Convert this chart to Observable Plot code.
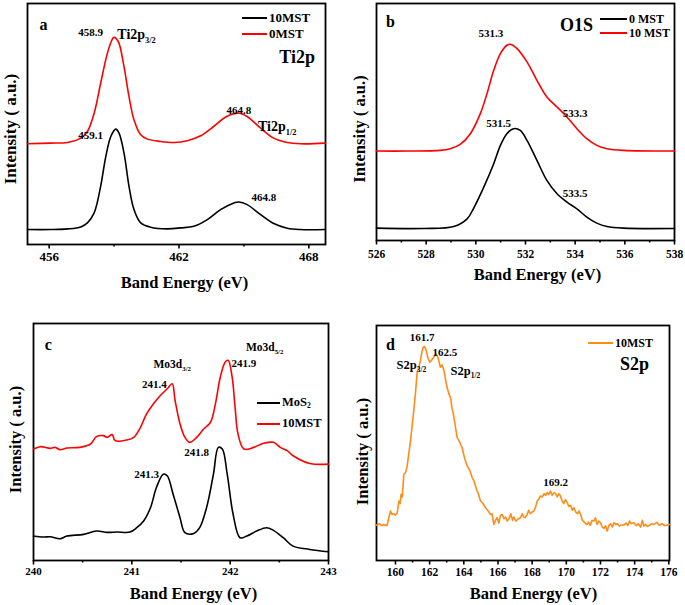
<!DOCTYPE html>
<html><head><meta charset="utf-8">
<script src="https://cdn.jsdelivr.net/npm/d3@7"></script>
<script src="https://cdn.jsdelivr.net/npm/@observablehq/plot@0.6"></script>
<style>
body{margin:0;background:#fff;}
#wrap{position:relative;width:685px;height:605px;overflow:hidden;background:#fff;}
.pan{position:absolute;}
.pan svg text{font-family:'Liberation Serif','Times New Roman',serif !important;font-weight:bold;}
.leg{position:absolute;font-family:'Liberation Serif',serif;font-weight:bold;color:#000;}
.row{display:flex;align-items:center;white-space:nowrap;}
.ln{display:inline-block;border-top:2px solid;margin-right:2px;}
sub{font-size:60%;vertical-align:-0.25em;}
</style></head><body><div id="wrap"></div><script>
// ---------- Panel a: Ti2p ----------
const tiEnergy0 = [455.0,456.08,456.85,457.46,457.77,458.08,458.38,458.69,458.92,459.0,459.08,459.23,459.46,459.69,459.92,460.23,460.54,461.15,461.77,462.38,463.0,463.6,464.2,464.77,465.15,465.77,466.38,467.0,467.6,468.77];
const tiInt0    = [303,305,307,320,340,395,485,575,618,623,621,605,535,445,375,330,317,310,307,312,327,355,385,395,385,350,320,307,303,305];
const tiEnergy10 = [455.0,456.08,456.85,457.46,457.77,458.08,458.38,458.62,458.85,459.08,459.23,459.46,459.69,459.92,460.23,460.69,461.46,462.08,462.69,463.31,463.92,464.54,464.77,465.15,465.77,466.38,467.0,467.6,468.77];
const tiInt10    = [45,45,47,53,65,95,175,265,325,347,335,275,175,105,65,52,47,50,55,75,105,125,128,120,90,63,49,45,45];
const tiMajor = [456,462,468], tiMinor = [459,465];
// ---------- Panel b: O1S ----------
const oEnergy10 = [526,527.23,528.57,528.97,529.37,529.78,530.18,530.45,530.72,530.99,531.25,531.39,531.66,532.06,532.46,532.86,533.27,533.67,534.07,534.47,534.87,535.28,535.95,538];
const oInt10    = [268,268,270,275,288,320,380,440,510,560,585,588,575,535,480,430,400,370,335,305,285,275,270,268];
const oEnergy0 = [526,527.9,529.11,529.65,529.9,530.32,530.72,530.99,531.25,531.52,531.79,532.06,532.46,532.86,533.27,533.67,534.07,534.47,534.87,535.28,535.95,538];
const oInt0    = [37,36,42,65,95,160,230,285,320,335,330,300,240,180,140,115,95,70,52,42,37,36];
const oMajor = [526,528,530,532,534,536,538], oMinor = [527,529,531,533,535,537];
// ---------- Panel c: Mo3d ----------
const moEnergy10 = [240.0,240.07,240.17,240.22,240.27,240.34,240.47,240.58,240.64,240.71,240.75,240.80,240.83,240.95,241.02,241.08,241.15,241.22,241.29,241.36,241.41,241.44,241.49,241.54,241.59,241.66,241.73,241.80,241.85,241.90,241.95,241.98,242.02,242.05,242.08,242.14,242.24,242.34,242.44,242.51,242.58,242.64,242.81,243.0];
const moInt10    = [333,340,335,338,331,336,338,348,370,373,368,376,358,360,368,393,438,468,493,513,528,478,408,368,353,368,393,413,468,548,593,598,548,458,378,333,338,350,353,338,328,313,290,288];
const moEnergyMoS2 = [240.0,240.1,240.17,240.27,240.34,240.51,240.64,240.75,240.85,240.98,241.05,241.12,241.19,241.25,241.32,241.36,241.42,241.49,241.54,241.63,241.69,241.76,241.83,241.88,241.92,241.97,242.03,242.10,242.17,242.27,242.37,242.44,242.54,242.64,242.81,243.0];
const moIntMoS2    = [73,70,71,65,73,78,88,84,85,85,98,118,158,218,258,253,198,128,83,81,98,158,258,338,333,258,138,68,73,88,98,90,68,43,33,26];
const moMajor = [240,241,242,243], moMinor = [240.5,241.5,242.5];
// ---------- Panel d: S2p ----------
const sEnergy = [158.89,159.05,159.2,159.32,159.45,159.51,159.62,159.71,159.8,159.9,160.0,160.1,160.2,160.27,160.33,160.4,160.49,160.58,160.68,160.78,160.88,160.97,161.07,161.17,161.27,161.36,161.46,161.55,161.62,161.7,161.81,161.9,162.01,162.12,162.24,162.35,162.44,162.53,162.63,162.73,162.83,162.92,163.02,163.12,163.22,163.31,163.41,163.51,163.61,163.75,163.9,164.05,164.2,164.35,164.49,164.6,164.7,164.78,164.85,164.98,165.1,165.27,165.4,165.56,165.65,165.76,165.85,165.95,166.05,166.15,166.24,166.35,166.45,166.54,166.65,166.75,166.85,166.93,167.05,167.2,167.32,167.42,167.5,167.6,167.71,167.8,167.9,168.0,168.1,168.2,168.3,168.4,168.49,168.6,168.7,168.8,168.88,168.98,169.07,169.17,169.27,169.37,169.47,169.56,169.66,169.75,169.85,169.95,170.05,170.15,170.25,170.35,170.44,170.55,170.65,170.75,170.83,170.95,171.05,171.15,171.22,171.3,171.4,171.5,171.61,171.7,171.8,171.9,172.0,172.1,172.2,172.3,172.39,172.5,172.6,172.7,172.78,172.9,173.0,173.1,173.2,173.37,173.5,173.6,173.7,173.8,173.95,174.1,174.2,174.35,174.45,174.54,174.65,174.75,174.9,175.0,175.12,175.3,175.45,175.6,175.75,175.9,176.04];
const sInt    = [106,110,104,108,104,106,130,148,138,140,136,142,178,170,198,190,258,262,280,320,358,400,448,500,563,575,598,625,638,640,628,605,593,600,608,618,613,600,578,585,570,545,518,500,488,455,433,400,368,355,338,305,283,270,248,238,220,208,200,178,172,158,150,138,140,108,120,128,112,135,138,125,130,118,125,140,120,130,118,125,128,140,130,128,138,150,140,145,148,160,178,185,193,190,200,195,203,198,208,195,203,200,190,200,193,178,170,182,173,162,165,150,158,145,140,148,138,120,115,110,108,115,105,120,118,128,108,118,113,100,96,104,88,105,110,100,113,108,110,103,106,106,112,105,118,110,113,104,110,100,120,103,108,102,106,110,108,114,105,110,104,106,108];
const sMajor = [160,162,164,166,168,170,172,174,176], sMinor = [161,163,165,167,169,171,173,175];

const zip = (E, I) => E.map((e, k) => ({e, i: I[k]}));
const FONT = "Liberation Serif";

function applySubs(svg, subScale) {
  svg.querySelectorAll("text").forEach(t => {
    const s = t.textContent;
    const m = s.match(/^(.*)_\{(.*)\}$/);
    if (!m) return;
    const fs = parseFloat(t.getAttribute("font-size")) || 12;
    while (t.firstChild) t.removeChild(t.firstChild);
    const a = document.createElementNS("http://www.w3.org/2000/svg", "tspan");
    a.textContent = m[1];
    const b = document.createElementNS("http://www.w3.org/2000/svg", "tspan");
    b.textContent = m[2];
    b.setAttribute("font-size", fs * subScale);
    b.setAttribute("dy", fs * 0.3);
    t.appendChild(a); t.appendChild(b);
  });
}

function panel(o) {
  const tf = {fontFamily: FONT, fontWeight: "bold"};
  const marks = [
    Plot.frame({strokeWidth: 1.8}),
    Plot.axisX({ticks: o.major, tickSize: 4.5, tickPadding: o.tickPad, fontSize: o.tickFont, strokeWidth: 1.6, label: null, tickFormat: d => String(d), ...tf}),
    Plot.axisX({ticks: o.minor, tickSize: 2.5, strokeWidth: 1.6, label: null, tickFormat: () => ""}),
    ...o.series.map(s => Plot.line(s.data, {x: "e", y: "i", stroke: s.stroke, strokeWidth: 1.6, curve: o.curve})),
    Plot.text(o.notes.filter(n => n.anchor !== "start"), {x: "x", y: "y", text: "text", fontSize: "size", textAnchor: "middle", ...tf}),
    Plot.text(o.notes.filter(n => n.anchor === "start"), {x: "x", y: "y", text: "text", fontSize: "size", textAnchor: "start", ...tf}),
    Plot.text(["Band Energy (eV)"], {frameAnchor: "bottom", textAnchor: "middle", lineAnchor: "middle", dx: o.xl[0], dy: o.xl[1], fontSize: 16.5, ...tf}),
    Plot.text(["Intensity ( a.u.)"], {frameAnchor: "left", textAnchor: "middle", lineAnchor: "middle", rotate: -90, dx: o.yl[0], dy: o.yl[1], fontSize: o.yl[2], ...tf})
  ];
  const p = Plot.plot({
    width: o.width, height: o.height,
    marginLeft: o.m[0], marginRight: o.m[1], marginTop: o.m[2], marginBottom: o.m[3],
    x: {domain: o.xDomain},
    y: {domain: o.yDomain, axis: null},
    style: {fontFamily: "Liberation Serif, serif", fontWeight: "bold", background: "transparent", color: "#000"},
    marks
  });
  applySubs(p, 0.6);
  const div = document.createElement("div");
  div.className = "pan";
  div.style.left = o.left + "px"; div.style.top = o.top + "px";
  div.appendChild(p);
  document.getElementById("wrap").appendChild(div);
}

function legend(left, top, rowH, lineW, fontSize, rows) {
  const d = document.createElement("div");
  d.className = "leg";
  d.style.left = left + "px"; d.style.top = top + "px"; d.style.fontSize = fontSize + "px";
  rows.forEach(r => {
    const row = document.createElement("div");
    row.className = "row"; row.style.height = rowH + "px";
    row.innerHTML = `<span class="ln" style="width:${lineW}px;border-color:${r.color}"></span><span>${r.label}</span>`;
    d.appendChild(row);
  });
  document.getElementById("wrap").appendChild(d);
}

// Panel a
panel({
  left: 0, top: 0, width: 345, height: 300, m: [27, 20, 3, 56],
  xDomain: [455.0, 468.77], yDomain: [0, 725],
  series: [{data: zip(tiEnergy10, tiInt10), stroke: "#000"}, {data: zip(tiEnergy0, tiInt0), stroke: "#ff0000"}],
  major: tiMajor, minor: tiMinor, tickFont: 13, tickPad: 3,
  curve: "catmull-rom",
  notes: [
    {x: 455.74, y: 660, text: "a", size: 16},
    {x: 457.92, y: 639, text: "458.9", size: 11},
    {x: 459.15, y: 633, text: "Ti2p_{3/2}", size: 14, anchor: "start"},
    {x: 464.77, y: 403, text: "464.8", size: 11},
    {x: 465.65, y: 355, text: "Ti2p_{1/2}", size: 14, anchor: "start"},
    {x: 457.92, y: 327, text: "459.1", size: 11},
    {x: 465.92, y: 142, text: "464.8", size: 11},
    {x: 467.46, y: 563, text: "Ti2p", size: 18}
  ],
  xl: [8, 38], yl: [-17, 5, 17]
});
legend(242, 10, 16, 25, 13, [{color: "#000", label: "10MST"}, {color: "#ff0000", label: "0MST"}]);

// Panel b
panel({
  left: 340, top: 0, width: 345, height: 300, m: [36, 11, 3, 60],
  xDomain: [526, 538], yDomain: [0, 710],
  series: [{data: zip(oEnergy0, oInt0), stroke: "#000"}, {data: zip(oEnergy10, oInt10), stroke: "#ff0000"}],
  major: oMajor, minor: oMinor, tickFont: 11.5, tickPad: 4.5,
  curve: "catmull-rom",
  notes: [
    {x: 526.56, y: 655, text: "b", size: 16},
    {x: 530.61, y: 620, text: "531.3", size: 11},
    {x: 534.0, y: 380, text: "533.3", size: 11},
    {x: 530.92, y: 352, text: "531.5", size: 11},
    {x: 534.0, y: 142, text: "533.5", size: 11},
    {x: 534.05, y: 645, text: "O1S", size: 18}
  ],
  xl: [12, 34], yl: [-17, 7, 16.5]
});
legend(600, 12, 14, 27, 12, [{color: "#000", label: "0 MST"}, {color: "#ff0000", label: "10 MST"}]);

// Panel c
panel({
  left: 0, top: 300, width: 340, height: 305, m: [33, 12, 23, 45],
  xDomain: [240, 243], yDomain: [0, 708],
  series: [{data: zip(moEnergyMoS2, moIntMoS2), stroke: "#000"}, {data: zip(moEnergy10, moInt10), stroke: "#ff0000"}],
  major: moMajor, minor: moMinor, tickFont: 11, tickPad: 2.5,
  curve: "catmull-rom",
  notes: [
    {x: 240.15, y: 643, text: "c", size: 16},
    {x: 241.22, y: 586, text: "Mo3d_{3/2}", size: 11.5, anchor: "start"},
    {x: 242.16, y: 638, text: "Mo3d_{5/2}", size: 11.5, anchor: "start"},
    {x: 241.23, y: 526, text: "241.4", size: 11},
    {x: 242.14, y: 588, text: "241.9", size: 11},
    {x: 241.15, y: 256, text: "241.3", size: 11},
    {x: 241.66, y: 323, text: "241.8", size: 11}
  ],
  xl: [12.5, 33], yl: [-18, -2.5, 16.5]
});
legend(257, 392, 21, 23, 12.5, [{color: "#000", label: "MoS<sub>2</sub>"}, {color: "#ff0000", label: "10MST"}]);

// Panel d
panel({
  left: 340, top: 300, width: 345, height: 305, m: [36, 16, 25, 45],
  xDomain: [158.89, 176.04], yDomain: [0, 703],
  series: [{data: zip(sEnergy, sInt), stroke: "#ff8c1a"}],
  major: sMajor, minor: sMinor, tickFont: 11.5, tickPad: 3,
  curve: "linear",
  notes: [
    {x: 159.71, y: 646, text: "d", size: 16},
    {x: 161.56, y: 666, text: "161.7", size: 11},
    {x: 162.89, y: 623, text: "162.5", size: 11},
    {x: 160.06, y: 586, text: "S2p_{3/2}", size: 12.5, anchor: "start"},
    {x: 163.22, y: 568, text: "S2p_{1/2}", size: 12.5, anchor: "start"},
    {x: 169.37, y: 233, text: "169.2", size: 11},
    {x: 173.99, y: 586, text: "S2p", size: 18}
  ],
  xl: [10.5, 33], yl: [-14, 8.5, 16.5]
});
legend(588, 336, 14, 25, 12, [{color: "#ff8c1a", label: "10MST"}]);
</script></body></html>
